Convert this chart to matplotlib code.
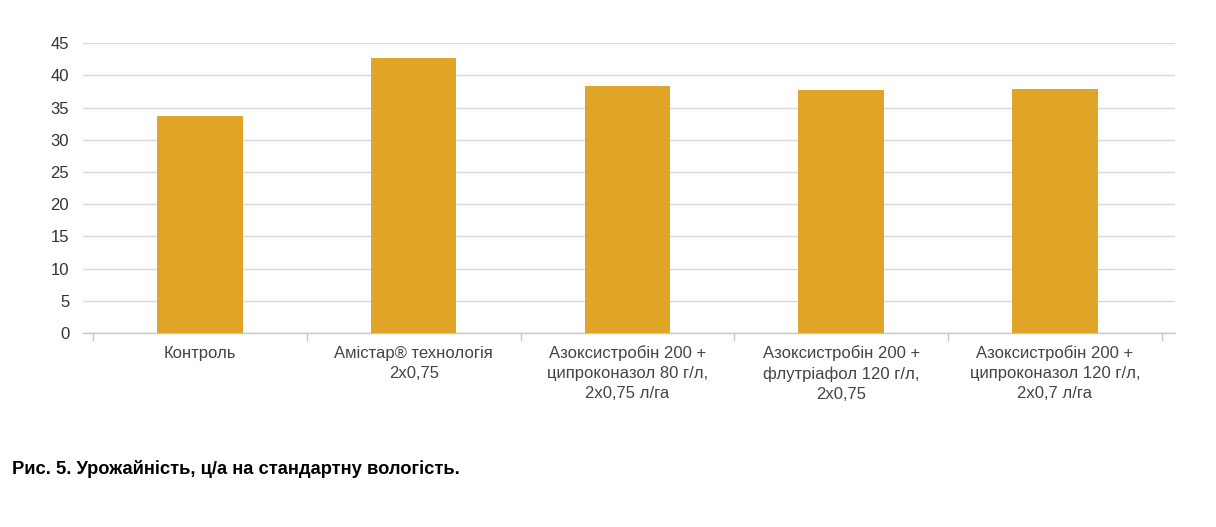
import matplotlib
matplotlib.use("Agg")
import matplotlib.pyplot as plt
import numpy as np

plt.rcParams['font.family'] = ['Liberation Sans', 'DejaVu Sans']

categories = [
  "Контроль",
  "Амістар® технологія\n2х0,75",
  "Азоксистробін 200 +\nципроконазол 80 г/л,\n2х0,75 л/га",
  "Азоксистробін 200 +\nфлутріафол 120 г/л,\n2х0,75",
  "Азоксистробін 200 +\nципроконазол 120 г/л,\n2х0,7 л/га",
]
yields = [33.7, 42.7, 38.4, 37.8, 37.9]
y_ticks = [0, 5, 10, 15, 20, 25, 30, 35, 40, 45]
caption = "Рис. 5. Урожайність, ц/а на стандартну вологість."

BAR_COLOR = "#E0A526"
GRID_COLOR = "#d9d9d9"
TEXT_COLOR = "#333333"

def plot_yields():
  fig = plt.figure(figsize=(12.16, 5.27), dpi=100)
  ax = fig.add_axes([0.0683, 0.368, 0.8977, 0.550])

  x = np.arange(len(categories))
  ax.bar(x, yields, width=0.4, color=BAR_COLOR, zorder=3)

  ax.set_ylim(0, 45)
  ax.set_yticks(y_ticks)
  ax.set_xlim(-0.547, 4.56)
  ax.yaxis.grid(True, color=GRID_COLOR, linewidth=1, zorder=0)

  for side in ["top", "right", "left"]:
    ax.spines[side].set_visible(False)
  ax.spines["bottom"].set_color("#c8c8c8")
  ax.spines["bottom"].set_linewidth(1)

  ax.tick_params(axis="y", length=0, pad=10, labelsize=12, labelcolor=TEXT_COLOR)
  ax.set_xticks(x)
  ax.set_xticklabels(categories, fontsize=12, color="#444444", linespacing=1.42, va="top")
  ax.tick_params(axis="x", which="major", length=0, pad=9)
  ax.set_xticks(np.arange(-0.5, len(categories)), minor=True)
  ax.tick_params(axis="x", which="minor", length=6, color="#c8c8c8", width=1)

  fig.text(0.0099, 0.1, caption, fontsize=13.2, fontweight="bold", color="black")

  fig.savefig("out.png", dpi=100)

if __name__ == '__main__':
  plot_yields()
